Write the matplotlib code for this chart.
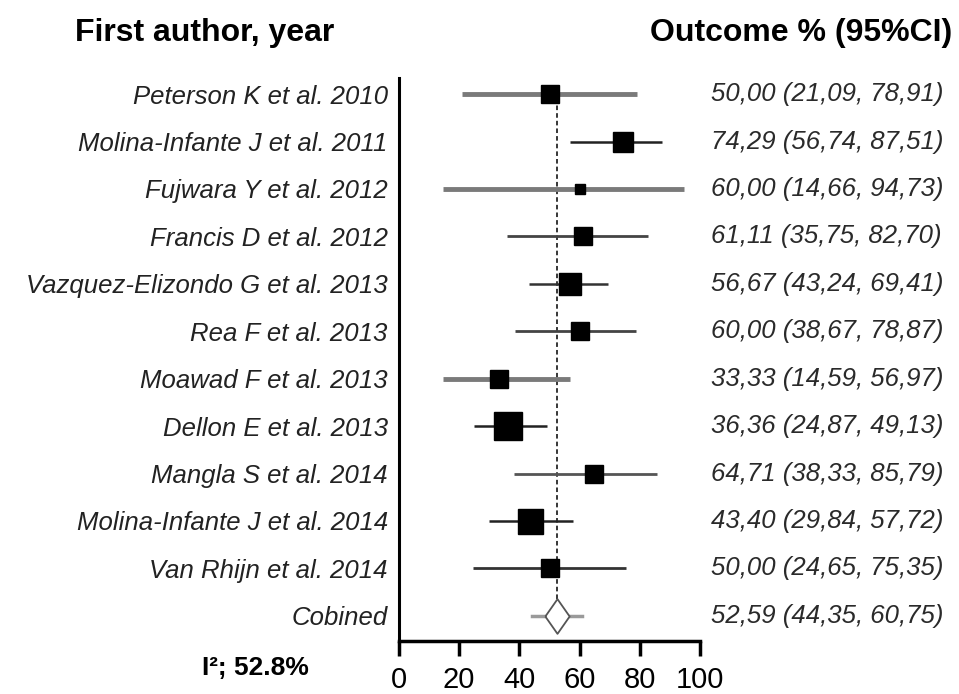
import matplotlib.pyplot as plt
from matplotlib.transforms import blended_transform_factory

plt.rcParams['font.family'] = ['Liberation Sans', 'DejaVu Sans']

# study data
studies = ['Peterson K et al. 2010', 'Molina-Infante J et al. 2011', 'Fujwara Y et al. 2012',
           'Francis D et al. 2012', 'Vazquez-Elizondo G et al. 2013', 'Rea F et al. 2013',
           'Moawad F et al. 2013', 'Dellon E et al. 2013', 'Mangla S et al. 2014',
           'Molina-Infante J et al. 2014', 'Van Rhijn et al. 2014']
est = [50.00, 74.29, 60.00, 61.11, 56.67, 60.00, 33.33, 36.36, 64.71, 43.40, 50.00]
lo = [21.09, 56.74, 14.66, 35.75, 43.24, 38.67, 14.59, 24.87, 38.33, 29.84, 24.65]
hi = [78.91, 87.51, 94.73, 82.70, 69.41, 78.87, 56.97, 49.13, 85.79, 57.72, 75.35]
# relative study weight -> marker size (pt)
weight_size = [13, 15, 7, 12.5, 16.5, 13, 13, 19.5, 13, 18, 13]

pooled_label = 'Cobined'
pooled_est = 52.59
pooled_lo = 44.35
pooled_hi = 60.75
i2_text = 'I²; 52.8%'

# line styles per row (appearance in the reference)
ci_width = [3.5, 1.8, 3.5, 2.0, 1.8, 2.0, 3.5, 1.8, 2.0, 1.8, 2.0]
ci_color = ['#7a7a7a', '#222222', '#7a7a7a', '#444444', '#333333', '#444444',
            '#7a7a7a', '#222222', '#555555', '#222222', '#333333']

fig = plt.figure(figsize=(9.59, 6.94), dpi=100)
ax = fig.add_axes([0.416, 0.0764, 0.314, 0.8112])

n = len(studies)
ys = list(range(n + 1, 1, -1))  # 12 .. 2
pooled_y = 1

def fmt(v):
    return f'{v:.2f}'.replace('.', ',')

for y, e, l, h, s, lw, c in zip(ys, est, lo, hi, weight_size, ci_width, ci_color):
    ax.plot([l, h], [y, y], color=c, lw=lw, solid_capstyle='butt', zorder=2)
    ax.plot([e], [y], marker='s', ms=s, color='black', zorder=3)

# pooled estimate
ax.plot([pooled_lo, pooled_hi], [pooled_y, pooled_y], color='#9a9a9a', lw=2.5, zorder=2)
diamond = [(-0.7, 0), (0, 1), (0.7, 0), (0, -1), (-0.7, 0)]
ax.plot([pooled_est], [pooled_y], marker=diamond, ms=25,
        markerfacecolor='white', markeredgecolor='#555555', mew=1.3, zorder=3)

# reference line at pooled estimate
ax.plot([pooled_est, pooled_est], [pooled_y + 0.36, ys[0]], color='black', lw=1.1,
        ls=(0, (3, 2)), zorder=1)

ax.set_xlim(0, 100)
ax.set_ylim(pooled_y - 0.53, ys[0] + 0.34)
ax.set_xticks([0, 20, 40, 60, 80, 100])
ax.set_yticks(ys + [pooled_y])
ax.set_yticklabels(studies + [pooled_label], fontstyle='italic', fontsize=18.5, color='#222222')
ax.tick_params(axis='y', length=0, pad=8)
ax.tick_params(axis='x', length=11, width=2.5, labelsize=21, pad=7)
for side in ['top', 'right']:
    ax.spines[side].set_visible(False)
ax.spines['left'].set_linewidth(2.2)
ax.spines['bottom'].set_linewidth(2.5)

trans = blended_transform_factory(fig.transFigure, ax.transData)
for y, e, l, h in zip(ys, est, lo, hi):
    ax.text(0.741, y, f'{fmt(e)} ({fmt(l)}, {fmt(h)})', transform=trans, ha='left',
            va='center', fontstyle='italic', fontsize=18.5, color='#2a2a2a')
ax.text(0.741, pooled_y, f'{fmt(pooled_est)} ({fmt(pooled_lo)}, {fmt(pooled_hi)})',
        transform=trans, ha='left', va='center', fontstyle='italic', fontsize=18.5, color='#2a2a2a')

fig.text(0.213, 0.952, 'First author, year', ha='center', va='center', fontsize=23, fontweight='bold')
fig.text(0.835, 0.952, 'Outcome % (95%CI)', ha='center', va='center', fontsize=23, fontweight='bold')
fig.text(0.266, 0.037, i2_text, ha='center', va='center', fontsize=19, fontweight='bold')

fig.savefig('out.png', dpi=100)
